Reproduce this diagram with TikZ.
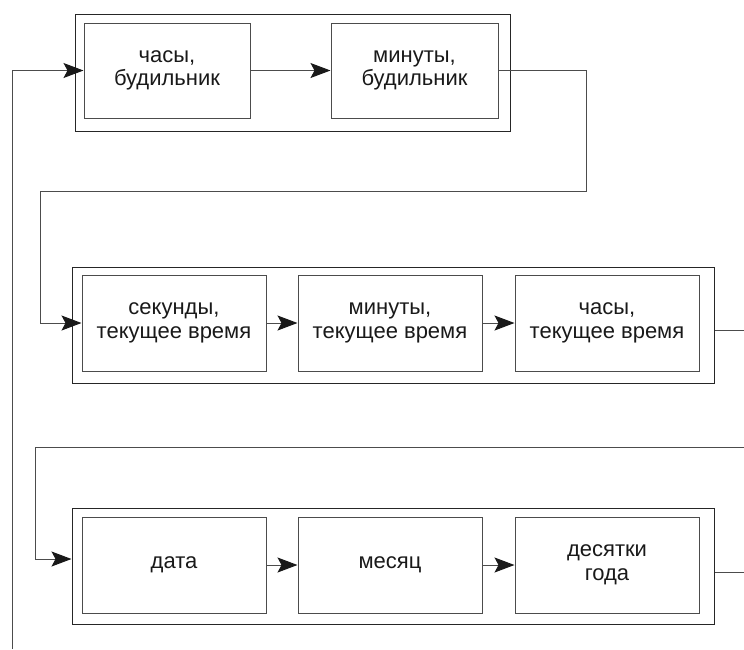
\documentclass[tikz,border=0pt]{standalone}
\usepackage{fontspec}
\setmainfont{Liberation Sans}
\usetikzlibrary{arrows.meta}
\begin{document}
\begin{tikzpicture}[x=1pt,y=-1pt,
  line/.style={draw=black!70,line width=1pt},
  inbox/.style={line,minimum width=184pt,minimum height=96pt,inner sep=0pt,align=center,font=\fontsize{22}{23.5}\selectfont,text=black!90},
  outbox/.style={line,draw=black!85,inner sep=0pt},
  arr/.style={line,-{Stealth[length=20pt,width=15pt,inset=4pt,color=black!90,fill=black!90]}}]
\useasboundingbox (0,0) rectangle (744,649);
% top group
\node[outbox,minimum width=435pt,minimum height=117pt] (T) at (292.5,72.5) {};
\node[inbox,minimum width=166pt,minimum height=95pt] (a1) at (167,70.5) {часы,\\будильник};
\node[inbox,minimum width=167pt,minimum height=95pt] (a2) at (414.5,70.5) {минуты,\\будильник};
% middle group
\node[outbox,minimum width=642pt,minimum height=116pt] (M) at (393,325) {};
\node[inbox] (b1) at (174,323) {секунды,\\текущее время};
\node[inbox] (b2) at (390,323) {минуты,\\текущее время};
\node[inbox] (b3) at (607,323) {часы,\\текущее время};
% bottom group
\node[outbox,minimum width=642pt,minimum height=116pt] (B) at (393,566) {};
\node[inbox] (c1) at (174,565) {дата};
\node[inbox] (c2) at (390,565) {месяц};
\node[inbox] (c3) at (607,565) {десятки\\года};
% helper coordinates
\coordinate (fb) at (12,649);
\coordinate (r1) at (586,191);
\coordinate (l1) at (40,191);
\coordinate (mo) at (744,330);
\coordinate (bi) at (744,447);
\coordinate (bl) at (35,559);
\coordinate (bo) at (744,572);
% connectors
\draw[arr] (fb) |- (a1.west);
\draw[arr] (a1) -- (a2);
\draw[line] (a2.east) -| (r1) -- (l1);
\draw[arr] (l1) |- (b1.west);
\draw[arr] (b1) -- (b2);
\draw[arr] (b2) -- (b3);
\draw[line] (mo -| M.east) -- (mo);
\draw[line] (bi) -| (bl);
\draw[arr] (bl) -- (bl -| B.west);
\draw[arr] (c1) -- (c2);
\draw[arr] (c2) -- (c3);
\draw[line] (bo -| B.east) -- (bo);
\end{tikzpicture}
\end{document}
